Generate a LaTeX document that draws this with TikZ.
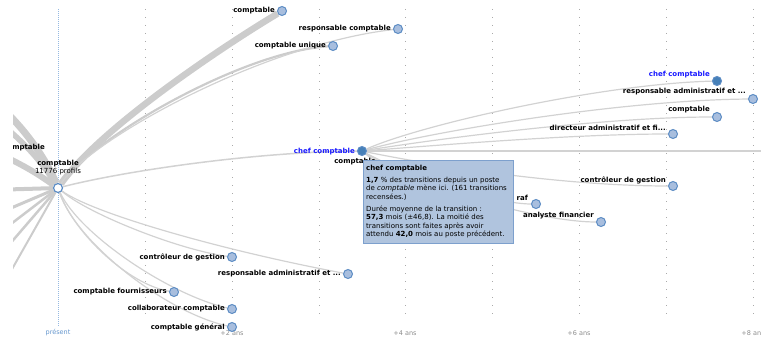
\documentclass[tikz,border=0pt]{standalone}
\usepackage{fontspec}
\setmainfont{DejaVu Sans}
\pgfdeclarelayer{grid}
\pgfdeclarelayer{edges}
\pgfsetlayers{grid,edges,main}
\definecolor{edgec}{RGB}{210,210,210}
\definecolor{thickc}{RGB}{204,204,204}
\definecolor{nodefill}{RGB}{168,190,222}
\definecolor{nodeline}{RGB}{92,140,196}
\definecolor{darkfill}{RGB}{70,128,184}
\definecolor{tipfill}{RGB}{176,196,222}
\definecolor{tipline}{RGB}{125,160,205}
\definecolor{gridc}{RGB}{170,170,170}
\definecolor{presc}{RGB}{150,185,225}
\definecolor{axisc}{RGB}{140,140,140}
\definecolor{presl}{RGB}{100,150,205}
\definecolor{labblue}{RGB}{25,25,255}
\tikzset{
  pt/.style={circle, draw=nodeline, fill=nodefill, line width=1pt, minimum size=9pt, inner sep=0pt},
  ptdark/.style={pt, fill=darkfill},
  lab/.style={font=\fontsize{7}{8}\selectfont\bfseries, inner sep=0pt, anchor=east},
  lbl/.style={lab, text=labblue},
  edge/.style={draw=edgec, line width=1.2pt},
  band/.style={draw=thickc, line width=#1},
  gridline/.style={draw=gridc, line width=1pt, dash pattern=on 1pt off 7pt},
  axislab/.style={font=\fontsize{6.5}{7}\selectfont, text=axisc, inner sep=0pt}
}
\begin{document}
\begin{tikzpicture}[x=1pt,y=-1pt]
\useasboundingbox (0,0) rectangle (761,337);
\clip (0,0) rectangle (761,337);
% grid
\begin{pgfonlayer}{grid}
\foreach \x in {145,232,319,405,492,579,666,753}
  \draw[gridline] (\x,9) -- (\x,320);
\draw[draw=presc, line width=1pt, dash pattern=on 1pt off 1pt] (58,9) -- (58,326);
\end{pgfonlayer}
% axis labels
\node[axislab, text=presl] (ax0) at (58,333) {présent};
\node[axislab] (ax2) at (232,333) {+2 ans};
\node[axislab] (ax4) at (405,333) {+4 ans};
\node[axislab] (ax6) at (579,333) {+6 ans};
\node[axislab] (ax8) at (753,333) {+8 ans};
% nodes
\node[pt, fill=white, line width=1.2pt] (root) at (58,188) {};
\node[font=\fontsize{7}{8}\selectfont\bfseries, inner sep=0pt] (rootl) at (58,164) {comptable};
\node[font=\fontsize{7}{8}\selectfont, inner sep=0pt] (rootp) at (58,172) {11776 profils};

\node[pt] (c1) at (282,11) {};
\node[pt] (rc) at (398,29) {};
\node[pt] (cu) at (333,46) {};
\node[ptdark] (k) at (362,151) {};
\node[pt] (hc) at (383,168) {};
\node[pt] (cg1) at (232,257) {};
\node[pt] (ra1) at (348,274) {};
\node[pt] (cf) at (174,292) {};
\node[pt] (cc) at (232,309) {};
\node[pt] (cgen) at (232,327) {};

\node[ptdark] (k2) at (717,81) {};
\node[pt] (ra2) at (753,99) {};
\node[pt] (c3) at (717,117) {};
\node[pt] (dir) at (673,134) {};
\node[pt] (cg2) at (673,186) {};
\node[pt] (raf) at (536,204) {};
\node[pt] (af) at (601,222) {};
\coordinate (eR) at (770,151);

% left off-screen coordinates
\coordinate (p1) at (-10,98);
\coordinate (p2) at (-10,116);
\coordinate (p3) at (-10,150);
\coordinate (p4) at (-10,190);
\coordinate (p5) at (-10,217);
\coordinate (p6) at (-10,240);
\coordinate (p7) at (-10,267);
\coordinate (p8) at (-10,308);

% labels
\node[lab] (l1) at ([xshift=-2pt]c1.west) {comptable};
\node[lab] (l2) at ([xshift=-2pt]rc.west) {responsable comptable};
\node[lab] (l3) at ([xshift=-2pt]cu.west) {comptable unique};
\node[lbl] (l4) at ([xshift=-2pt,yshift=-1pt]k.west) {chef comptable};
\node[lab] (l5) at (376,162) {comptable};
\node[lab] (l6) at ([xshift=-2pt]cg1.west) {contrôleur de gestion};
\node[lab] (l7) at ([xshift=-2pt]ra1.west) {responsable administratif et ...};
\node[lab] (l8) at ([xshift=-2pt]cf.west) {comptable fournisseurs};
\node[lab] (l9) at ([xshift=-2pt]cc.west) {collaborateur comptable};
\node[lab] (l10) at ([xshift=-2pt]cgen.west) {comptable général};
\node[lbl] (r1) at ([xshift=-2pt,yshift=6pt]k2.west) {chef comptable};
\node[lab] (r2) at ([xshift=-2pt,yshift=7pt]ra2.west) {responsable administratif et ...};
\node[lab] (r3) at ([xshift=-2pt,yshift=7pt]c3.west) {comptable};
\node[lab] (r4) at ([xshift=-2pt,yshift=6pt]dir.west) {directeur administratif et fi...};
\node[lab] (r5) at ([xshift=-2pt,yshift=6pt]cg2.west) {contrôleur de gestion};
\node[lab] (r6) at ([xshift=-3pt,yshift=6pt]raf.west) {raf};
\node[lab] (r7) at ([xshift=-2pt,yshift=6pt]af.west) {analyste financier};
\begin{scope}
\clip (13,0) rectangle (761,337);
\node[lab] (lm) at (45,148) {comptable};
\end{scope}

% edges
\begin{pgfonlayer}{edges}
\begin{scope}
\clip (13,0) rectangle (761,337);
\draw[band=7pt] (root) .. controls (50,168) and (28,128) .. (p1);
\draw[band=5.5pt] (root) .. controls (48,172) and (28,142) .. (p2);
\draw[band=6pt] (root) .. controls (46,180) and (28,166) .. (p3);
\draw[band=4pt] (root) -- (p4);
\draw[band=3pt] (root) -- (p5);
\draw[band=2.5pt] (root) -- (p6);
\draw[band=2.5pt] (root) -- (p7);
\draw[band=2pt] (root) -- (p8);
\end{scope}
\draw[band=6.5pt] (root) .. controls (100,128) and (225,45) .. (c1);
\draw[band=2.2pt] (root) .. controls (90,140) and (240,52) .. (cu);
\draw[edge] (root) .. controls (90,140) and (260,45) .. (rc);
\draw[edge, line width=1.5pt] (root) .. controls (120,172) and (250,152) .. (k);
\draw[edge] (root) .. controls (90,215) and (180,250) .. (cg1);
\draw[edge] (root) .. controls (92,213) and (220,250) .. (ra1);
\draw[edge] (root) .. controls (75,235) and (130,285) .. (cf);
\draw[edge] (root) .. controls (80,235) and (170,295) .. (cc);
\draw[edge] (root) .. controls (76,242) and (165,312) .. (cgen);
\draw[edge] (k) .. controls (420,125) and (600,84) .. (k2);
\draw[edge] (k) .. controls (430,132) and (620,100) .. (ra2);
\draw[edge] (k) .. controls (430,140) and (600,117) .. (c3);
\draw[edge] (k) .. controls (430,146) and (570,134) .. (dir);
\draw[edge, line width=1.5pt] (k) -- (eR);
\draw[edge] (k) .. controls (430,165) and (560,186) .. (cg2);
\draw[edge] (k) .. controls (420,182) and (500,204) .. (raf);
\draw[edge] (k) .. controls (420,188) and (540,222) .. (af);
\draw[edge] (k) -- (hc);
\end{pgfonlayer}

% tooltip
\node[draw=tipline, fill=tipfill, line width=0.8pt, minimum width=150pt, minimum height=83pt, inner sep=0pt, anchor=north west] (tip) at (363,160) {};
\node[anchor=north west, inner sep=0pt, align=left, font=\fontsize{7}{8.5}\selectfont] (tiptext) at (366,165)
{\textbf{chef comptable}\\[3pt]
\textbf{1,7} \% des transitions depuis un poste\\
de \textit{comptable} mène ici. (161 transitions\\
recensées.)\\[3.5pt]
Durée moyenne de la transition :\\
\textbf{57,3} mois (±46,8). La moitié des\\
transitions sont faites après avoir\\
attendu \textbf{42,0} mois au poste précédent.};
\end{tikzpicture}
\end{document}
